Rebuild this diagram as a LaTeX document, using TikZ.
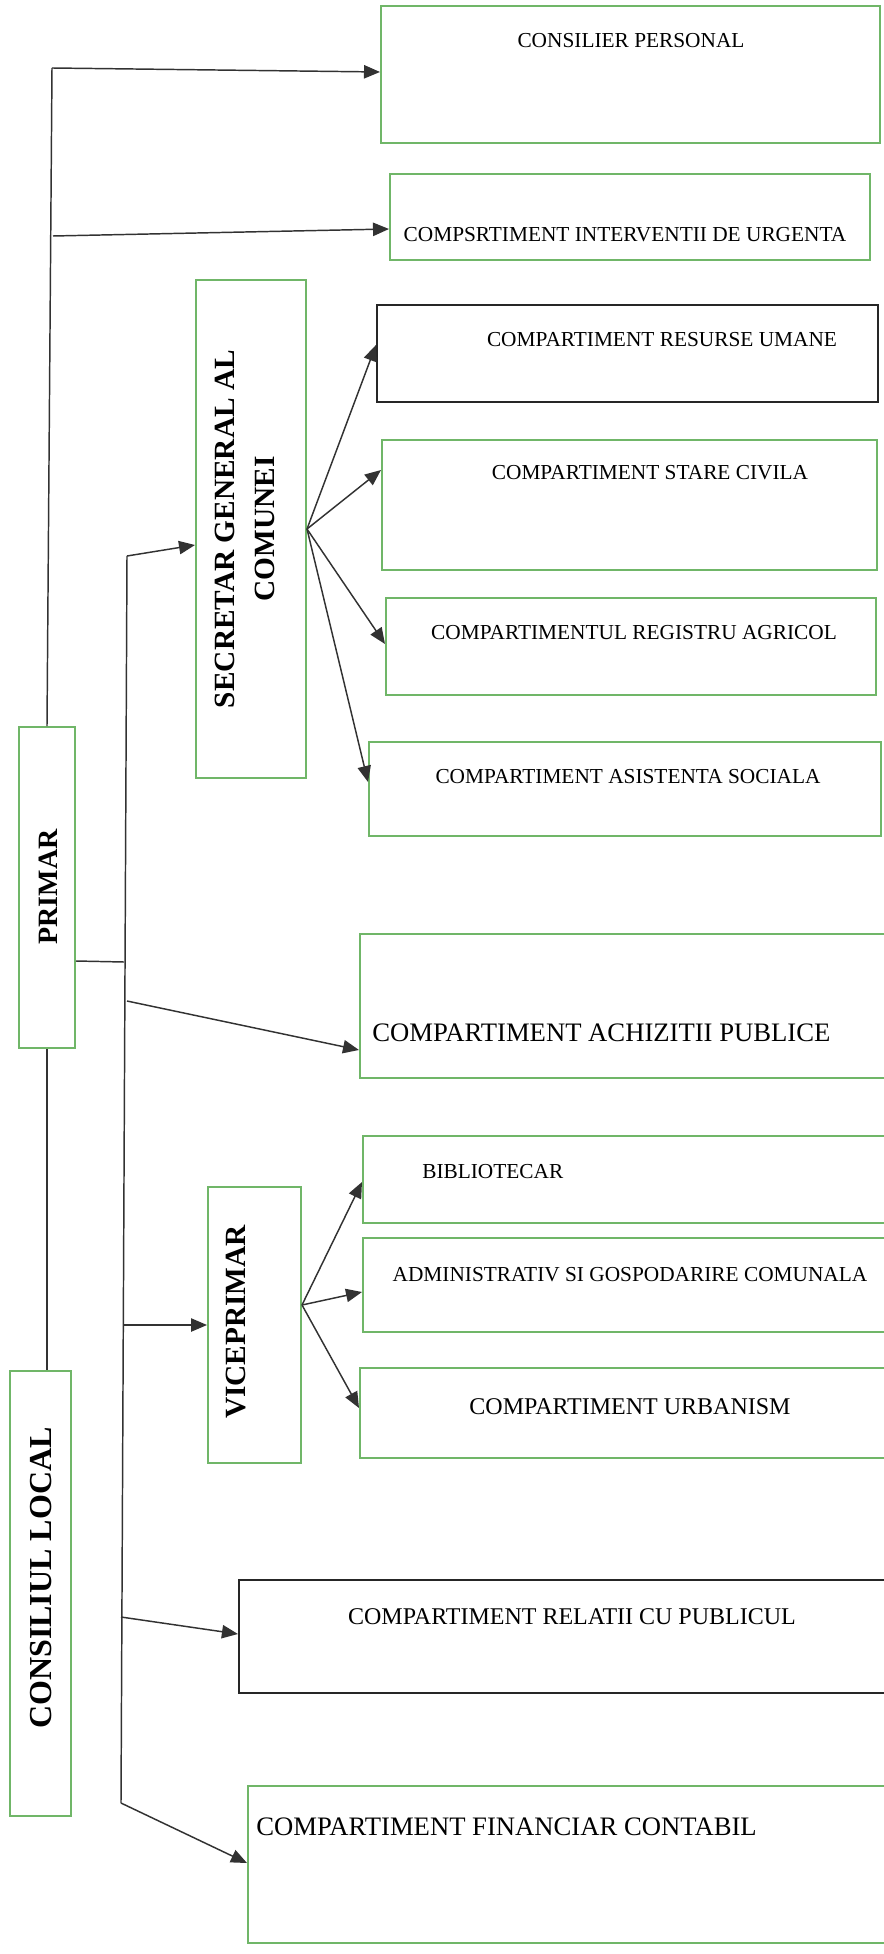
\documentclass[tikz,border=0pt]{standalone}
\usepackage{fontspec}
\setmainfont{Liberation Serif}
\newfontfamily\orgfont{Liberation Serif}
\usetikzlibrary{arrows.meta,fit}

\definecolor{boxgreen}{RGB}{112,182,104}
\definecolor{linegray}{RGB}{50,50,50}

\begin{document}
\begin{tikzpicture}[
    x=0.75pt, y=-0.75pt,
    gbox/.style={draw=boxgreen, line width=1.5pt, inner sep=0pt},
    kbox/.style={draw=black!85, line width=1.6pt, inner sep=0pt},
    txt/.style={inner sep=0pt, font=\orgfont\fontsize{16}{19}\selectfont},
    bigtxt/.style={inner sep=0pt, font=\orgfont\fontsize{20}{24}\selectfont},
    midtxt/.style={inner sep=0pt, font=\orgfont\fontsize{18}{22}\selectfont},
    vtxt/.style={inner sep=0pt, rotate=90, align=center,
        font=\orgfont\bfseries\fontsize{22}{30}\selectfont},
    link/.style={draw=linegray, line width=1.1pt},
    arr/.style={link, -{Triangle[length=12pt,width=10pt]}}
]
    \useasboundingbox (0,0) rectangle (883,1954);

    % left column
    \node[gbox, fit={(19,727) (75,1048)}] (pr) {};
    \node[vtxt, font=\orgfont\bfseries\fontsize{21}{26}\selectfont] (pr-t) at (48,887) {PRIMAR};
    \node[gbox, fit={(10,1371) (71,1816)}] (cl) {};
    \node[vtxt, font=\orgfont\bfseries\fontsize{24}{30}\selectfont] (cl-t) at (41,1578) {CONSILIUL LOCAL};

    % direct boxes of the primar
    \node[gbox, fit={(381,6) (880,143)}] (cp) {};
    \node[txt] (cp-t) at (631,41) {CONSILIER PERSONAL};
    \node[gbox, fit={(390,174) (870,260)}] (ciu) {};
    \node[txt] (ciu-t) at (625,235) {COMPSRTIMENT INTERVENTII DE URGENTA};

    % secretar general
    \node[gbox, fit={(196,280) (306,778)}] (sg) {};
    \node[vtxt] (sg-t) at (245,529) {SECRETAR GENERAL AL\\COMUNEI};
    \node[kbox, fit={(377,305) (878,402)}] (rum) {};
    \node[txt] (rum-t) at (662,340) {COMPARTIMENT RESURSE UMANE};
    \node[gbox, fit={(382,440) (877,570)}] (stc) {};
    \node[txt] (stc-t) at (650,473) {COMPARTIMENT STARE CIVILA};
    \node[gbox, fit={(386,598) (876,695)}] (rag) {};
    \node[txt] (rag-t) at (634,633) {COMPARTIMENTUL REGISTRU AGRICOL};
    \node[gbox, fit={(369,742) (881,836)}] (ass) {};
    \node[txt] (ass-t) at (628,777) {COMPARTIMENT ASISTENTA SOCIALA};

    \node[gbox, fit={(360,934) (900,1078)}] (ach) {};
    \node[bigtxt, anchor=west] (ach-t) at (372,1033) {COMPARTIMENT ACHIZITII PUBLICE};

    % viceprimar
    \node[gbox, fit={(208,1187) (301,1463)}] (vp) {};
    \node[vtxt] (vp-t) at (236,1322) {VICEPRIMAR};
    \node[gbox, fit={(363,1136) (900,1223)}] (bib) {};
    \node[txt, anchor=west] (bib-t) at (422,1172) {BIBLIOTECAR};
    \node[gbox, fit={(363,1238) (900,1332)}] (adm) {};
    \node[txt] (adm-t) at (630,1275) {ADMINISTRATIV SI GOSPODARIRE COMUNALA};
    \node[gbox, fit={(360,1368) (900,1458)}] (urb) {};
    \node[midtxt] (urb-t) at (630,1407) {COMPARTIMENT URBANISM};

    \node[kbox, fit={(239,1580) (900,1693)}] (rcp) {};
    \node[midtxt] (rcp-t) at (572,1617) {COMPARTIMENT RELATII CU PUBLICUL};
    \node[gbox, fit={(248,1786) (900,1943)}] (fc) {};
    \node[bigtxt, anchor=west] (fc-t) at (256,1827) {COMPARTIMENT FINANCIAR CONTABIL};

    % points on the trunk lines
    \coordinate (t1) at (52,68);
    \coordinate (t2) at (53,236);
    \coordinate (v2t) at (127,556);
    \coordinate (v2b) at (121,1803);
    \coordinate (j1) at (124,962);
    \coordinate (a1) at (127,1001);
    \coordinate (a2) at (124,1325);
    \coordinate (a3) at (121,1617);

    % trunks
    \draw[link] (pr.north) -- (t1);
    \draw[link] (v2t) -- (v2b);
    \draw[link] (pr.east |- 0,961) -- (j1);
    \draw[link] (pr.south) -- (pr.south |- cl.north);

    % arrows
    \draw[arr] (t1) -- (cp.west |- 0,72);
    \draw[arr] (t2) -- (ciu.west |- 0,229);
    \draw[arr] (v2t) -- (sg.west |- 0,545);
    \draw[arr] (sg.east) -- (rum.west |- 0,345);
    \draw[arr] (sg.east) -- (stc.west |- 0,470);
    \draw[arr] (sg.east) -- (rag.west |- 0,644);
    \draw[arr] (sg.east) -- (ass.west |- 0,782);
    \draw[arr] (a1) -- (ach.west |- 0,1050);
    \draw[arr] (a2) -- (vp.west);
    \draw[arr] (vp.east |- 0,1305) -- (bib.west |- 0,1182);
    \draw[arr] (vp.east |- 0,1305) -- (adm.west |- 0,1292);
    \draw[arr] (vp.east |- 0,1305) -- (urb.west |- 0,1408);
    \draw[arr] (a3) -- (rcp.west |- 0,1634);
    \draw[arr] (v2b) -- (fc.west |- 0,1863);
\end{tikzpicture}
\end{document}
